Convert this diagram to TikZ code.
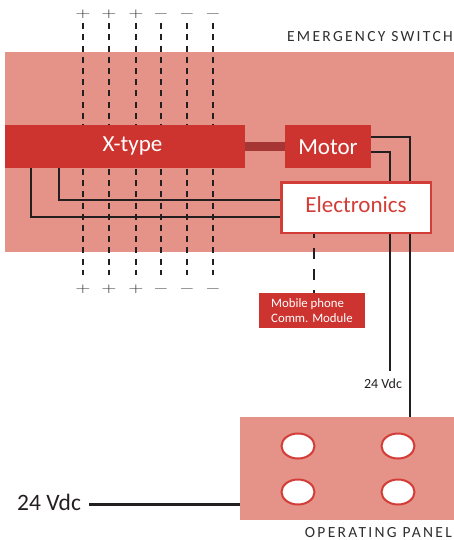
\documentclass[tikz,border=0pt]{standalone}
\usepackage[no-math]{fontspec}
\setmainfont{Carlito}
\usetikzlibrary{shapes.geometric}
\definecolor{pinkbg}{HTML}{E59289}
\definecolor{boxred}{HTML}{CE342F}
\definecolor{barred}{HTML}{A53634}
\definecolor{linered}{HTML}{D23D37}
\definecolor{wirecol}{HTML}{231F20}
\definecolor{signcol}{HTML}{3A3A3A}
\definecolor{labelcol}{HTML}{2E2E2E}
\pgfdeclarelayer{wires}
\pgfdeclarelayer{front}
\pgfsetlayers{main,wires,front}
\begin{document}
\begin{tikzpicture}[x=1pt,y=-1pt,
  pinkbox/.style={fill=pinkbg, draw=none, inner sep=0pt, outer sep=0pt, anchor=north west},
  redbox/.style={fill=boxred, draw=none, text=white, inner sep=0pt, outer sep=0pt, font={\fontsize{23}{27}\selectfont}, text depth=0pt},
  elecbox/.style={fill=white, draw=linered, line width=2.5pt, text=linered, inner sep=0pt, outer sep=0pt, font={\fontsize{23}{27}\selectfont}, text depth=0pt},
  button/.style={ellipse, fill=white, draw=linered, line width=2pt, minimum width=33pt, minimum height=25pt, inner sep=0pt},
  wire/.style={draw=wirecol, line width=2.7pt},
  busline/.style={draw=wirecol, line width=2.9pt, dash pattern=on 6pt off 5.2pt},
  commline/.style={draw=wirecol, line width=2.8pt, dash pattern=on 11pt off 10pt, dash phase=5.75pt},
  sign/.style={text=signcol, inner sep=0pt},
  caplabel/.style={font={\fontsize{15.5}{18}\selectfont\addfontfeatures{LetterSpace=15}}, text=labelcol, inner sep=0pt, anchor=base east},
]
\useasboundingbox (0,0) rectangle (454,540);

% housings
\node[pinkbox, minimum width=449pt, minimum height=200pt] (switch) at (5,52) {};
\node[pinkbox, minimum width=214pt, minimum height=103pt] (panel) at (240,417) {};

% labels
\node[caplabel] (swlabel) at (453,42) {EMERGENCY SWITCH};
\node[caplabel] (oplabel) at (452,537) {OPERATING PANEL};
\node[font={\fontsize{14}{16}\selectfont}, text=wirecol, inner sep=0pt, anchor=base] (vsmall) at (383,388) {24 Vdc};
\node[font={\fontsize{23.5}{27}\selectfont}, text=wirecol, inner sep=0pt, anchor=base west] (vin) at (17,510) {24 Vdc};

% signs
\foreach \i/\x/\s in {1/83/+,2/109/+,3/136/+,4/161/-,5/187/-,6/213/-}{
  \node[sign] (pt\i) at (\x,14) {\scalebox{1.95}[1.3]{$\s$}};
  \node[sign] (pb\i) at (\x,289.5) {\scalebox{1.95}[1.3]{$\s$}};
}

% front boxes
\begin{pgfonlayer}{front}
\node[redbox, minimum width=240pt, minimum height=43pt, text height=11pt] (xtype) at (125,146.5) {\hspace*{15pt}X-type};
\node[redbox, minimum width=86pt, minimum height=43pt, text height=17pt] (motor) at (328,146.5) {Motor};
\node[elecbox, minimum width=149.5pt, minimum height=50.5pt, text height=10.4pt] (elec) at (356,207.5) {Electronics};
\node[fill=boxred, draw=none, inner sep=0pt, outer sep=0pt, minimum width=106pt, minimum height=35pt] (mobile) at (312,310.5) {};
\node[text=white, inner sep=0pt, anchor=base west, font={\fontsize{12.8}{15}\selectfont}] (mobiletext) at (271,307)
  {\begin{tabular}[t]{@{}l@{}}Mobile phone\\Comm. Module\end{tabular}};
\node[button] (b1) at (298,446) {};
\node[button] (b2) at (398,446) {};
\node[button] (b3) at (298,492) {};
\node[button] (b4) at (398,492) {};
\end{pgfonlayer}

% wires
\begin{pgfonlayer}{wires}
\coordinate (ta) at (410,137);
\coordinate (tb) at (390,152);
\coordinate (tbend) at (390,371);
\draw[wire] (motor.east |- ta) -- (ta) -- (ta |- panel.north);
\draw[wire] (motor.east |- tb) -- (tb) -- (tbend);
\coordinate (xa) at (31,217);
\coordinate (xb) at (59,200);
\draw[wire] (xtype.south -| xa) -- (xa) -- (xa -| elec.west);
\draw[wire] (xtype.south -| xb) -- (xb) -- (xb -| elec.west);
\draw[draw=barred, line width=8.6pt] (xtype.east) -- (motor.west);
\coordinate (w) at (89,504.5);
\draw[wire] (w) -- (w -| panel.west);
\coordinate (dtop) at (0,23.3);
\coordinate (dbot) at (0,275);
\foreach \i in {1,...,6}{
  \draw[busline] (pt\i |- dtop) -- (pt\i |- dbot);
}
\coordinate (cm) at (314,0);
\draw[commline] (elec.south -| cm) -- (mobile.north -| cm);
\end{pgfonlayer}
\end{tikzpicture}
\end{document}
